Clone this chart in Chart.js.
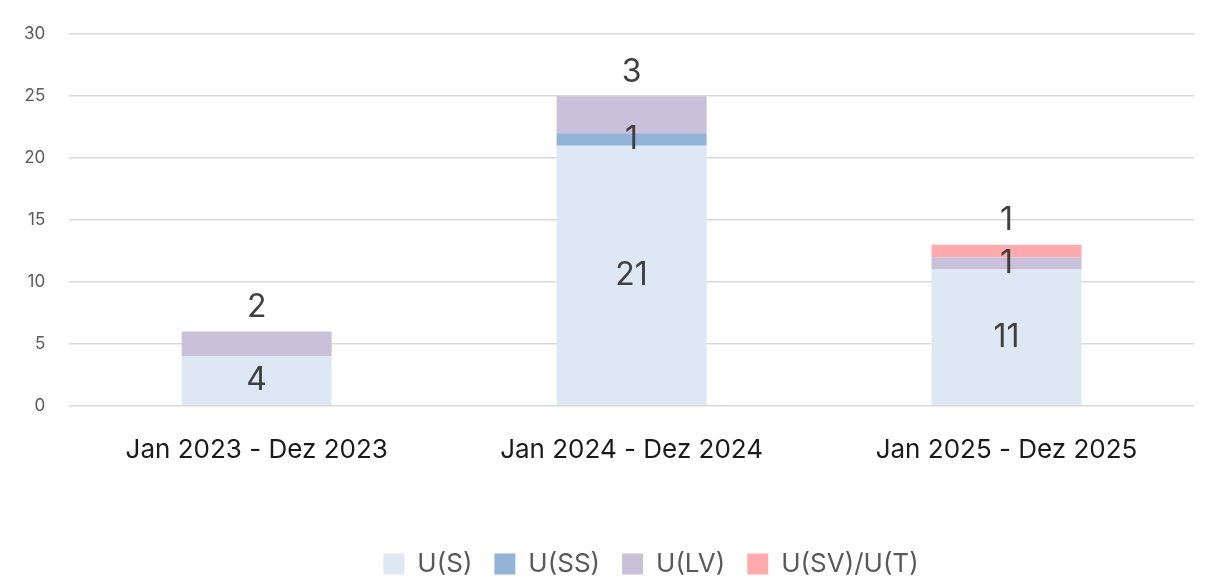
<!DOCTYPE html>
<html>
<head>
<meta charset="utf-8">
<script src="https://cdn.jsdelivr.net/npm/chart.js@4"></script>
<style>
  html, body { margin: 0; padding: 0; background: #fff; }
  #wrap { width: 1209px; height: 581px; }
</style>
</head>
<body>
<div id="wrap"><canvas id="chart"></canvas></div>
<script>
const categories = ["Jan 2023 - Dez 2023", "Jan 2024 - Dez 2024", "Jan 2025 - Dez 2025"];
const seriesNames = ["U(S)", "U(SS)", "U(LV)", "U(SV)/U(T)"];
const valuesS = [4, 21, 11];
const valuesSS = [0, 1, 0];
const valuesLV = [2, 3, 1];
const valuesSVT = [0, 0, 1];
const seriesColors = ["#dde8f4", "#93b3d7", "#c9c0da", "#ffabad"];

const FONT = "Inter, 'Open Sans', sans-serif";

// labels: centered in segment, top segment above the bar
const stackLabels = {
  id: "stackLabels",
  afterDatasetsDraw(chart) {
    const ctx = chart.ctx;
    ctx.save();
    ctx.font = "32px " + FONT;
    ctx.fillStyle = "#404040";
    ctx.textAlign = "center";
    ctx.textBaseline = "middle";
    const n = chart.data.labels.length;
    for (let i = 0; i < n; i++) {
      let topDs = -1;
      chart.data.datasets.forEach((ds, d) => { if (ds.data[i]) topDs = d; });
      chart.data.datasets.forEach((ds, d) => {
        const v = ds.data[i];
        if (!v) return;
        const bar = chart.getDatasetMeta(d).data[i];
        const y = d === topDs ? bar.y - 24 : (bar.y + bar.base) / 2;
        ctx.fillText(String(v), bar.x, y);
      });
    }
    ctx.restore();
  },
};

// legend sits a bit right of centre and lower in the original
const legendShift = {
  id: "legendShift",
  afterLayout(chart) {
    const lg = chart.legend;
    lg.left += 54; lg.right += 54;
    lg.top += 6; lg.bottom += 6;
  },
};

new Chart(document.getElementById("chart"), {
  type: "bar",
  data: {
    labels: categories,
    datasets: [valuesS, valuesSS, valuesLV, valuesSVT].map((data, i) => ({
      label: seriesNames[i],
      data: data,
      backgroundColor: seriesColors[i],
      borderWidth: 0,
      categoryPercentage: 1,
      barPercentage: 0.4,
    })),
  },
  options: {
    responsive: true,
    maintainAspectRatio: false,
    animation: false,
    layout: { padding: { top: 22, right: 15, left: 0, bottom: 0 } },
    scales: {
      x: {
        stacked: true,
        grid: { display: false },
        border: { display: false },
        ticks: { color: "#1a1a1a", font: { family: FONT, size: 26 }, padding: 21 },
        afterFit: (scale) => { scale.height += 36; },
      },
      y: {
        stacked: true,
        min: 0,
        max: 30,
        grid: { color: "#d9d9d9", lineWidth: 1.5, drawTicks: false },
        border: { display: false },
        ticks: { stepSize: 5, color: "#595959", font: { family: FONT, size: 17 }, padding: 24 },
      },
    },
    plugins: {
      legend: {
        position: "bottom",
        labels: {
          color: "#595959",
          font: { family: FONT, size: 26 },
          boxWidth: 21,
          boxHeight: 21,
          padding: 22,
        },
      },
      tooltip: { enabled: false },
    },
  },
  plugins: [stackLabels, legendShift],
});
</script>
</body>
</html>
